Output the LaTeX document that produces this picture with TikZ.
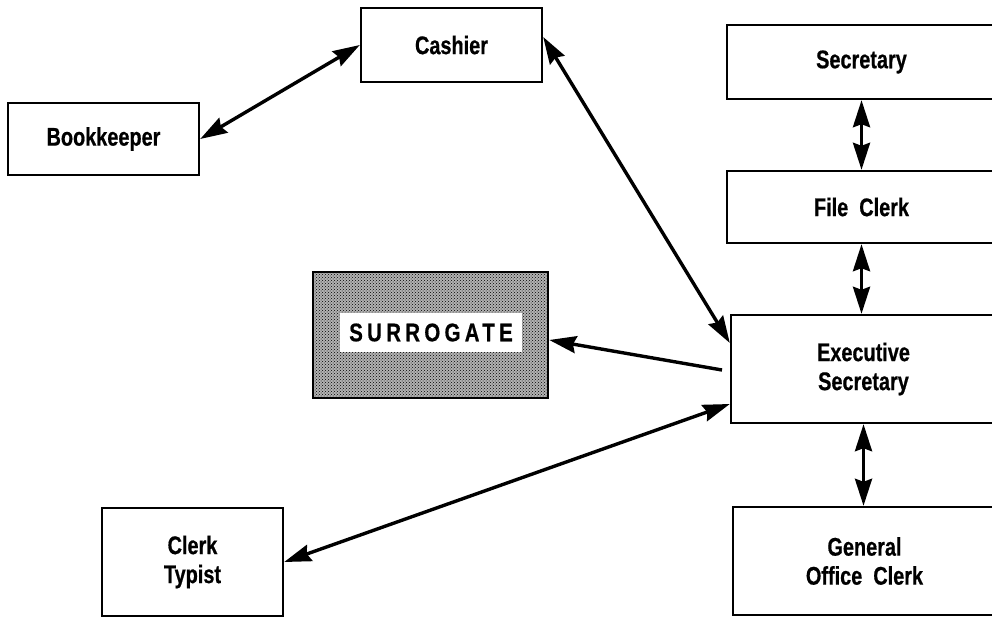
\documentclass[tikz,border=0pt]{standalone}
\usepackage{fontspec}
\setmainfont{Liberation Sans}[FakeStretch=0.78,FakeBold=0.6]
\newfontfamily\spacedfont{Liberation Sans}[FakeStretch=0.8,FakeBold=0.6,LetterSpace=17]
\usetikzlibrary{arrows.meta,patterns}
\begin{document}
\begin{tikzpicture}[x=1pt,y=-1pt,
  box/.style={draw=black, line width=2.4pt, fill=white, align=center, inner sep=0pt,
    font=\fontsize{25.5}{29}\selectfont\bfseries},
  link/.style={line width=3.4pt, {Stealth[length=27pt,width=17pt,inset=3pt]}-{Stealth[length=27pt,width=17pt,inset=3pt]}},
  onelink/.style={line width=3.4pt, -{Stealth[length=27pt,width=17pt,inset=3pt]}}
]
\useasboundingbox (0,0) rectangle (992,618);
\fill[white] (0,0) rectangle (992,618);

\node[box, minimum width=181pt, minimum height=74pt] (cash) at (451.5,45) {Cashier};
\node[box, minimum width=191pt, minimum height=72pt] (bk) at (103.5,139) {Bookkeeper};
\node[box, minimum width=269pt, minimum height=74pt] (sec) at (861.5,62) {Secretary};
\node[box, minimum width=269pt, minimum height=72pt] (fc) at (861.5,207) {File\ \ Clerk};
\node[box, minimum width=265pt, minimum height=108pt] (exec) at (863.5,369) {Executive\\Secretary};
\node[box, minimum width=263pt, minimum height=108pt] (goc) at (864.5,561) {General\\Office\ \ Clerk};
\node[box, minimum width=181pt, minimum height=108pt] (ct) at (192.5,562) {Clerk\\Typist};

\node[draw=black, line width=2.6pt, minimum width=235pt, minimum height=126pt,
  fill=gray!60, postaction={pattern=crosshatch dots, pattern color=black}] (surr) at (430.5,335) {};
\node[fill=white, minimum width=182pt, minimum height=39pt, inner sep=0pt,
  font=\fontsize{25.5}{29}\selectfont\bfseries\spacedfont] (surrlabel) at (431,332.5) {SURROGATE};

\draw[link] (bk.east) -- (cash.west);
\draw[link] ([yshift=8pt]cash.east) -- ([yshift=26pt]exec.west);
\coordinate (execout) at (722,370);
\draw[onelink] (execout) -- ([yshift=-5pt]surr.east);
\draw[link] (ct.east) -- ([yshift=-35pt]exec.west);
\draw[link] (sec.south) -- (fc.north);
\draw[link] (fc.south) -- (fc.south |- exec.north);
\draw[link] (exec.south) -- (exec.south |- goc.north);
\end{tikzpicture}
\end{document}
